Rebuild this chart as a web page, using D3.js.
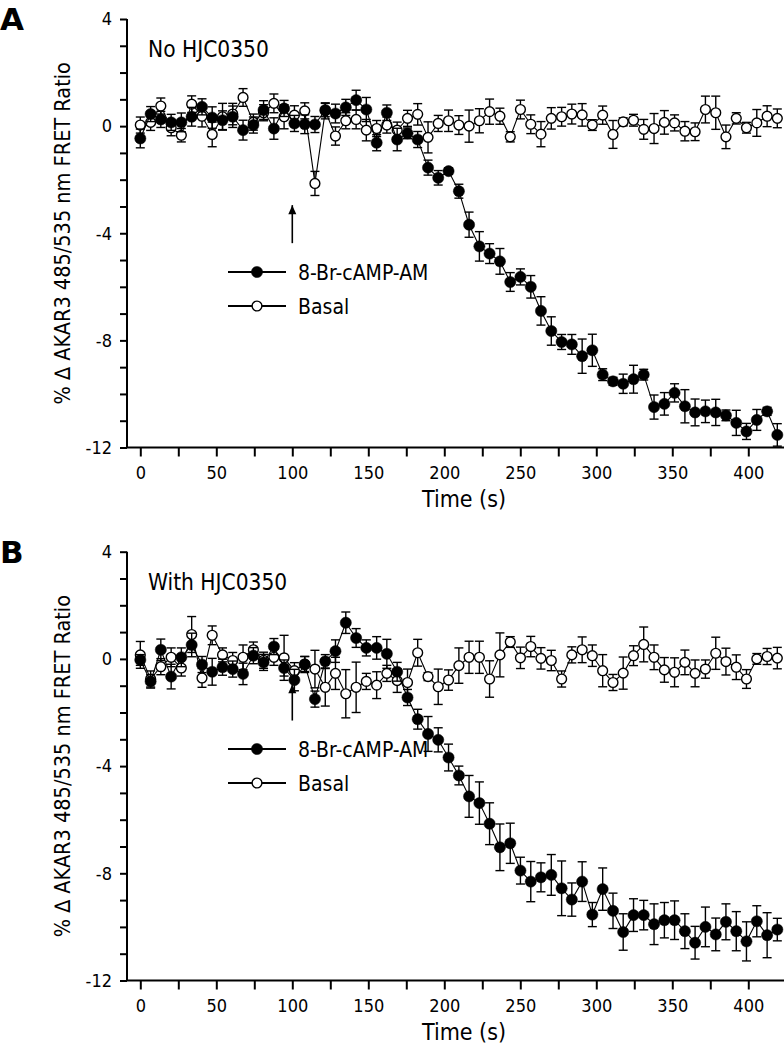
<!DOCTYPE html>
<html><head><meta charset="utf-8">
<script src="https://cdn.jsdelivr.net/npm/d3@7"></script>
<style>body{margin:0;background:#fff}svg text{font-family:"DejaVu Sans Condensed","DejaVu Sans",sans-serif;fill:#000}</style>
</head><body>
<svg id="c" width="784" height="1050"></svg>
<script>
const times = [0,6.8,13.5,20.3,27.0,33.8,40.6,47.3,54.1,60.8,67.6,74.4,81.1,87.9,94.6,101.4,108.2,114.9,121.7,128.4,135.2,142.0,148.7,155.5,162.2,169.0,175.8,182.5,189.3,196.0,202.8,209.6,216.3,223.1,229.8,236.6,243.4,250.1,256.9,263.6,270.4,277.2,283.9,290.7,297.4,304.2,311.0,317.7,324.5,331.2,338.0,344.8,351.5,358.3,365.0,371.8,378.6,385.3,392.1,398.8,405.6,412.4,419.1];

const aStim = [-0.46,0.45,0.25,0.14,0.14,0.35,0.72,0.32,0.22,0.35,-0.15,0.04,0.6,-0.09,0.66,0.1,0.07,0.06,0.6,0.47,0.7,0.97,0.62,-0.62,0.5,-0.5,-0.27,-0.5,-1.55,-1.93,-1.68,-2.43,-3.68,-4.49,-4.76,-5.05,-5.82,-5.63,-6.0,-6.9,-7.65,-8.06,-8.15,-8.59,-8.37,-9.28,-9.53,-9.62,-9.45,-9.28,-10.49,-10.37,-9.96,-10.46,-10.69,-10.65,-10.69,-10.8,-11.08,-11.4,-10.97,-10.65,-11.53];
const aStimErr = [0.35,0.28,0.3,0.3,0.35,0.35,0.3,0.4,0.35,0.4,0.37,0.3,0.35,0.4,0.3,0.3,0.35,0.3,0.25,0.35,0.3,0.37,0.45,0.3,0.29,0.42,0.2,0.3,0.28,0.27,0.12,0.26,0.47,0.55,0.37,0.48,0.35,0.3,0.42,0.53,0.53,0.28,0.37,0.64,0.6,0.22,0.15,0.36,0.52,0.2,0.45,0.42,0.34,0.62,0.5,0.42,0.49,0.2,0.47,0.3,0.39,0.15,0.42];
const aBasal = [0.04,0.14,0.75,-0.06,-0.34,0.82,0.37,-0.31,0.35,0.45,1.07,0.15,0.5,0.85,0.35,0.41,0.57,-2.14,0.57,-0.37,0.2,0.25,-0.15,-0.09,0.04,-0.15,0.29,0.44,-0.42,0.1,0.2,0.04,0,0.2,0.54,0.37,-0.4,0.62,0.07,-0.3,0.29,0.35,0.45,0.42,0.04,0.41,-0.31,0.16,0.22,-0.12,-0.09,0.14,0.12,-0.19,-0.21,0.62,0.5,-0.4,0.29,-0.06,0.12,0.37,0.29];
const aBasalErr = [0.3,0.3,0.3,0.3,0.25,0.31,0.4,0.46,0.5,0.4,0.33,0.3,0.3,0.35,0.45,0.35,0.3,0.45,0.3,0.34,0.3,0.35,0.4,0.3,0.3,0.3,0.3,0.4,0.58,0.3,0.4,0.35,0.6,0.45,0.47,0.3,0.19,0.35,0.35,0.47,0.4,0.35,0.37,0.42,0.2,0.34,0.52,0.15,0.22,0.37,0.56,0.44,0.3,0.36,0.33,0.5,0.62,0.44,0.21,0.2,0.5,0.39,0.35];

const bStim = [-0.04,-0.84,0.34,-0.66,0.06,0.52,-0.21,-0.48,-0.31,-0.38,-0.56,0.12,-0.13,0.46,-0.34,-0.79,-0.21,-1.5,-0.09,0.29,1.35,0.78,0.41,0.41,0.19,-0.48,-1.44,-2.25,-2.8,-3.02,-3.68,-4.35,-5.13,-5.38,-6.15,-7.03,-6.88,-7.9,-8.31,-8.15,-8.06,-8.56,-8.98,-8.31,-9.54,-8.59,-9.4,-10.19,-9.56,-9.56,-9.9,-9.75,-9.75,-10.16,-10.59,-10.0,-10.28,-9.81,-10.16,-10.54,-9.79,-10.31,-10.1];
const bStimErr = [0.2,0.25,0.4,0.46,0.35,0.44,0.3,0.5,0.3,0.3,0.4,0.3,0.3,0.3,0.3,0.4,0.3,0.3,0.25,0.42,0.4,0.35,0.3,0.42,0.54,0.35,0.3,0.37,0.65,0.45,0.5,0.35,0.78,0.79,0.78,0.87,0.75,0.5,0.75,0.54,0.76,1.02,0.62,0.74,0.45,0.79,0.66,0.68,0.61,0.55,0.76,0.66,0.72,0.65,0.61,0.74,0.61,0.67,0.73,0.73,0.58,0.84,0.42];
const bBasal = [0.15,-0.75,-0.29,0.06,-0.34,0.91,-0.71,0.88,0.15,-0.06,0.06,0.34,-0.05,0.06,0.04,-0.44,-0.19,-0.38,-1.06,-0.54,-1.3,-1.06,-0.84,-0.98,-0.54,-0.81,-0.88,0.23,-0.66,-1.04,-0.79,-0.25,0.06,0.06,-0.75,0.15,0.63,0.04,0.46,0.02,-0.06,-0.75,0.15,0.34,0.12,-0.44,-0.88,-0.53,0.12,0.54,0.06,-0.41,-0.5,-0.13,-0.54,-0.38,0.21,-0.1,-0.31,-0.75,0,0.09,0.03];
const bBasalErr = [0.5,0.3,0.3,0.35,0.3,0.67,0.35,0.35,0.26,0.3,0.46,0.29,0.3,0.3,0.84,0.3,0.28,0.7,0.7,0.6,0.9,0.94,0.3,0.5,0.3,0.44,0.5,0.5,0.15,0.66,0.38,0.66,0.6,0.6,0.68,0.82,0.2,0.4,0.38,0.4,0.38,0.3,0.3,0.48,0.4,0.6,0.3,0.6,0.37,0.65,0.46,0.46,0.54,0.46,0.5,0.34,0.6,0.5,0.46,0.35,0.2,0.3,0.4];

const xTickValues = [0,25,50,75,100,125,150,175,200,225,250,275,300,325,350,375,400];
const xTickLabels = ["0","","50","","100","","150","","200","","250","","300","","350","","400"];
const yTickValues = [-12,-11,-10,-9,-8,-7,-6,-5,-4,-3,-2,-1,0,1,2,3,4];
const yTickLabels = ["-12","","","","-8","","","","-4","","","","0","","","","4"];
const seriesNames = ["8-Br-cAMP-AM","Basal"];
const panelLetters = ["A","B"];
const panelTitles = ["No HJC0350","With HJC0350"];
const yTitle = "% \u2206 AKAR3 485/535 nm FRET Ratio";
const xTitle = "Time (s)";
const arrowTime = 100;
const arrowSpans = [[-4.37,-2.95],[-2.3,-0.95]];

const svg = d3.select("#c");

function panel(cfg){
  const g = svg.append("g");
  const x = d3.scaleLinear().domain([-8.75,423.5]).range([127,784]);
  const y = d3.scaleLinear().domain([-12,4]).range([cfg.bottom, cfg.top]);

  const xa = d3.axisBottom(x).tickValues(xTickValues)
      .tickFormat((d,i)=>xTickLabels[i]).tickSize(9).tickSizeOuter(0).tickPadding(10);
  const gx = g.append("g").attr("transform",`translate(0,${cfg.bottom})`).call(xa);
  const ya = d3.axisLeft(y).tickValues(yTickValues)
      .tickFormat((d,i)=>yTickLabels[i]).tickSize(7).tickSizeOuter(0).tickPadding(8);
  const gy = g.append("g").attr("transform",`translate(127,0)`).call(ya);
  [gx,gy].forEach(a=>{
    a.select(".domain").attr("stroke","#000").attr("stroke-width",2);
    a.selectAll(".tick line").attr("stroke","#000").attr("stroke-width",2);
    a.selectAll(".tick text").style("font-size","18px").attr("fill","#000");
  });
  gy.select(".domain").attr("d",`M0,${cfg.top}V${cfg.bottom}`);
  gx.select(".domain").attr("d",`M127,0H784`);

  g.append("text").attr("x",0).attr("y",cfg.top+11).style("font-family","'DejaVu Sans',sans-serif")
   .style("font-weight","bold").style("font-size","31px").text(cfg.letter);
  g.append("text").attr("x",148).attr("y",cfg.top+38).style("font-size","22.5px").text(cfg.title);
  g.append("text").attr("transform",`translate(70,${(cfg.top+cfg.bottom)/2}) rotate(-90)`)
   .attr("text-anchor","middle").style("font-size","21.5px").text(yTitle);
  g.append("text").attr("x",464).attr("y",cfg.bottom+59).attr("text-anchor","middle")
   .style("font-size","23px").text(xTitle);

  const line = d3.line().x((d,i)=>x(times[i])).y(d=>y(d));
  function series(vals, errs, filled){
    const s = g.append("g");
    s.append("path").datum(vals).attr("d",line).attr("fill","none").attr("stroke","#000").attr("stroke-width",1.1);
    const eb = s.selectAll("g.eb").data(vals).join("g");
    eb.append("line").attr("x1",(d,i)=>x(times[i])).attr("x2",(d,i)=>x(times[i]))
      .attr("y1",(d,i)=>y(d+errs[i])).attr("y2",(d,i)=>y(d-errs[i])).attr("stroke","#000").attr("stroke-width",1.4);
    eb.append("line").attr("x1",(d,i)=>x(times[i])-4.5).attr("x2",(d,i)=>x(times[i])+4.5)
      .attr("y1",(d,i)=>y(d+errs[i])).attr("y2",(d,i)=>y(d+errs[i])).attr("stroke","#000").attr("stroke-width",1.4);
    eb.append("line").attr("x1",(d,i)=>x(times[i])-4.5).attr("x2",(d,i)=>x(times[i])+4.5)
      .attr("y1",(d,i)=>y(d-errs[i])).attr("y2",(d,i)=>y(d-errs[i])).attr("stroke","#000").attr("stroke-width",1.4);
    s.selectAll("circle").data(vals).join("circle")
      .attr("cx",(d,i)=>x(times[i])).attr("cy",d=>y(d))
      .attr("r",filled?5.6:4.9).attr("fill",filled?"#000":"#fff")
      .attr("stroke","#000").attr("stroke-width",filled?0.5:1.4);
  }
  series(cfg.basal, cfg.basalErr, false);
  series(cfg.stim, cfg.stimErr, true);

  const ax = x(arrowTime), y0 = y(cfg.arrow[0]), y1 = y(cfg.arrow[1]);
  g.append("line").attr("x1",ax).attr("x2",ax).attr("y1",y0).attr("y2",y1).attr("stroke","#000").attr("stroke-width",1.6);
  g.append("path").attr("d",`M${ax-4},${y1+9}L${ax},${y1}L${ax+4},${y1+9}Z`).attr("fill","#000");

  cfg.legendY.forEach((ly,k)=>{
    g.append("line").attr("x1",228).attr("x2",286).attr("y1",ly).attr("y2",ly).attr("stroke","#000").attr("stroke-width",2);
    g.append("circle").attr("cx",257).attr("cy",ly).attr("r",k===0?5.6:4.9)
      .attr("fill",k===0?"#000":"#fff").attr("stroke","#000").attr("stroke-width",k===0?0.5:1.4);
    g.append("text").attr("x",298).attr("y",ly+7.5).style("font-size","21px").text(seriesNames[k]);
  });
}

panel({top:19,bottom:447.5,letter:panelLetters[0],title:panelTitles[0],
  stim:aStim,stimErr:aStimErr,basal:aBasal,basalErr:aBasalErr,arrow:arrowSpans[0],legendY:[272,306]});
panel({top:551.7,bottom:980.5,letter:panelLetters[1],title:panelTitles[1],
  stim:bStim,stimErr:bStimErr,basal:bBasal,basalErr:bBasalErr,arrow:arrowSpans[1],legendY:[749,783]});
</script>
</body></html>
